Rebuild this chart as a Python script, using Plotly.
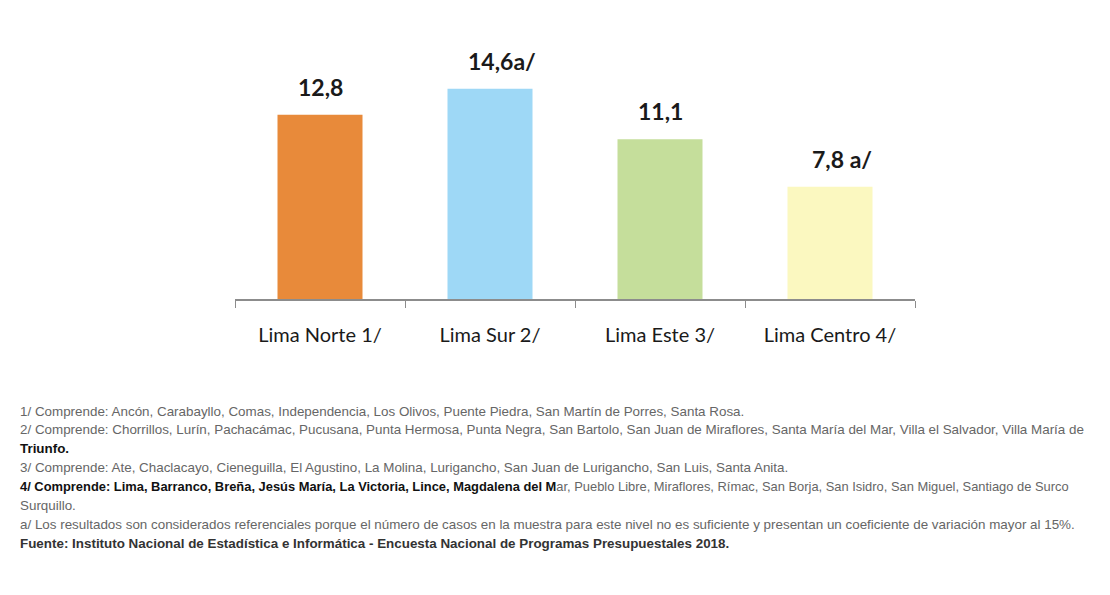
import plotly.graph_objects as go

# data
regions = ["Lima Norte 1/", "Lima Sur 2/", "Lima Este 3/", "Lima Centro 4/"]
values = [12.8, 14.6, 11.1, 7.8]
value_labels = ["12,8", "14,6a/", "11,1", "7,8 a/"]
bar_colors = ["#E88A3A", "#9ED8F6", "#C5DE9B", "#FBF8C0"]

notes = [
    "1/ Comprende: Ancón, Carabayllo, Comas, Independencia, Los Olivos, Puente Piedra, San Martín de Porres, Santa Rosa.",
    "2/ Comprende: Chorrillos, Lurín, Pachacámac, Pucusana, Punta Hermosa, Punta Negra, San Bartolo, San Juan de Miraflores, Santa María del Mar, Villa el Salvador, Villa María de",
    "<b style='color:#111'>Triunfo.</b>",
    "3/ Comprende: Ate, Chaclacayo, Cieneguilla, El Agustino, La Molina, Lurigancho, San Juan de Lurigancho, San Luis, Santa Anita.",
    "<b style='color:#111'>4/ Comprende: Lima, Barranco, Breña, Jesús María, La Victoria, Lince, Magdalena del M</b>ar, Pueblo Libre, Miraflores, Rímac, San Borja, San Isidro, San Miguel, Santiago de Surco",
    "Surquillo.",
    "a/ Los resultados son considerados referenciales porque el número de casos en la muestra para este nivel no es suficiente y presentan un coeficiente de variación mayor al 15%.",
    "<b style='color:#333'>Fuente: Instituto Nacional de Estadística e Informática - Encuesta Nacional de Programas Presupuestales 2018.</b>",
]

W, H = 1110, 595
L, R, T, B = 227, 203, 32, 304
plot_w = W - L - R
plot_h = H - T - B
px_per_unit = 14.4

fig = go.Figure()
fig.add_trace(go.Bar(
    x=regions, y=values,
    marker=dict(color=bar_colors, line=dict(width=0)),
    width=0.5,
    hoverinfo="x+y",
))

# value labels above bars
for reg, v, lab in zip(regions, values, value_labels):
    fig.add_annotation(
        x=reg, y=v, text="<b>" + lab + "</b>", showarrow=False,
        yanchor="middle", yshift=28, xshift=12 if "a/" in lab else 0,
        font=dict(family="Lato, Open Sans, sans-serif", size=23, color="#1a1a1a"),
    )

# footnotes (the long bold line 4 gets a slightly smaller size so it fits)
for i, txt in enumerate(notes):
    py = 403 + i * 18.9
    fig.add_annotation(
        xref="paper", yref="paper",
        x=(10 - L) / plot_w, y=(H - B - py) / plot_h,
        xanchor="left", yanchor="middle", align="left",
        text=txt, showarrow=False,
        font=dict(family="Liberation Sans, Arial, sans-serif",
                  size=12.9 if txt.startswith("<b style='color:#111'>4/") else 13.4,
                  color="#666666"),
    )

fig.update_layout(
    width=W, height=H,
    margin=dict(l=L, r=R, t=T, b=B),
    paper_bgcolor="white", plot_bgcolor="white",
    showlegend=False,
    xaxis=dict(
        showline=True, linecolor="#8c8c8c", linewidth=1.5,
        ticks="outside", tickson="boundaries", ticklen=7, tickcolor="#8c8c8c",
        ticklabelstandoff=17,
        tickfont=dict(family="Lato, Open Sans, sans-serif", size=20, color="#1a1a1a"),
        showgrid=False,
    ),
    yaxis=dict(range=[0, plot_h / px_per_unit], visible=False, showgrid=False),
)

fig.write_html("out.html")
